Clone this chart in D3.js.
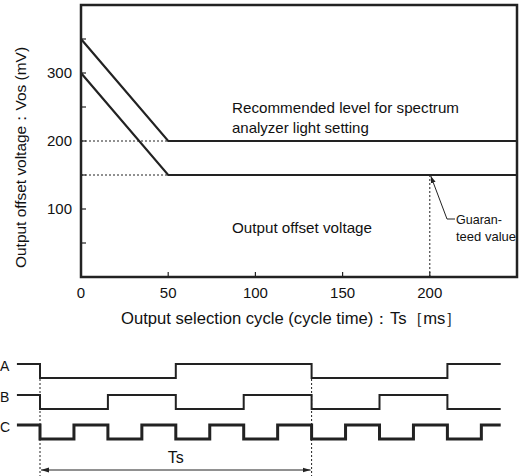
<!DOCTYPE html>
<html><head><meta charset="utf-8">
<script src="https://cdn.jsdelivr.net/npm/d3@7"></script>
<style>
body{margin:0;background:#fff;}
svg{display:block;font-family:"Liberation Sans",Arial,Helvetica,sans-serif;}
</style></head>
<body><svg id="c" width="520" height="476"></svg>
<script>
// ---- data ----
const xTicks = [0, 50, 100, 150, 200];
const yTickLabels = [100, 200, 300];
const yMinorTicks = [50, 100, 150, 200, 250, 300, 350];
const xMinorTicks = [50, 100, 150, 200];
const recommended = [[0, 350], [50, 200], [250, 200]];
const guaranteed = [[0, 300], [50, 150], [250, 150]];
const dashedH = [200, 150];
const guaranteePoint = [200, 150];
// timing diagram: segment boundaries (in C half-periods) and levels
const tBounds = [-0.68, 0, 1, 2, 3, 4, 5, 6, 7, 8, 9, 10, 11, 12, 13, 13.57];
const sigA = [1, 0, 0, 0, 0, 1, 1, 1, 1, 0, 0, 0, 0, 1, 1];
const sigB = [1, 0, 0, 1, 1, 0, 0, 1, 1, 0, 0, 1, 1, 0, 0];
const sigC = [1, 0, 1, 0, 1, 0, 1, 0, 1, 0, 1, 0, 1, 0, 1];
const tsSpan = [0, 8];

const svg = d3.select("#c");
const x = d3.scaleLinear().domain([0, 250]).range([81, 517]);
const y = d3.scaleLinear().domain([0, 400]).range([277, 5]);

// dashed guides
svg.selectAll(".dh").data(dashedH).join("line")
  .attr("x1", x(0)).attr("x2", x(50)).attr("y1", d => y(d)).attr("y2", d => y(d))
  .attr("stroke", "#222").attr("stroke-width", 1).attr("stroke-dasharray", "2,2");
svg.append("line").attr("x1", x(guaranteePoint[0])).attr("x2", x(guaranteePoint[0]))
  .attr("y1", y(guaranteePoint[1])).attr("y2", y(0))
  .attr("stroke", "#222").attr("stroke-width", 1).attr("stroke-dasharray", "2,2");

// ticks (inside)
svg.selectAll(".yt").data(yMinorTicks).join("line")
  .attr("x1", x(0)).attr("x2", x(0) + 5).attr("y1", d => y(d)).attr("y2", d => y(d))
  .attr("stroke", "#222").attr("stroke-width", 1.2);
svg.selectAll(".xt").data(xMinorTicks).join("line")
  .attr("y1", y(0)).attr("y2", y(0) - 5).attr("x1", d => x(d)).attr("x2", d => x(d))
  .attr("stroke", "#222").attr("stroke-width", 1.2);

// frame
svg.append("rect").attr("x", x(0)).attr("y", y(400)).attr("width", x(250) - x(0)).attr("height", y(0) - y(400))
  .attr("fill", "none").attr("stroke", "#222").attr("stroke-width", 2.5);

// curves
const line = d3.line().x(d => x(d[0])).y(d => y(d[1]));
[recommended, guaranteed].forEach(s => {
  svg.append("path").attr("d", line(s)).attr("fill", "none").attr("stroke", "#222").attr("stroke-width", 2.2);
});

// tick labels
svg.selectAll(".xl").data(xTicks).join("text")
  .attr("x", d => x(d)).attr("y", 298).attr("text-anchor", "middle")
  .attr("font-size", 15).attr("fill", "#111").text(d => d);
svg.selectAll(".yl").data(yTickLabels).join("text")
  .attr("x", 72).attr("y", d => y(d) + 5).attr("text-anchor", "end")
  .attr("font-size", 15).attr("fill", "#111").text(d => d);

// axis titles
svg.append("text").attr("transform", "translate(26,157.5) rotate(-90)").attr("text-anchor", "middle")
  .attr("font-size", 15).attr("fill", "#111")
  .attr("textLength", 221).attr("lengthAdjust", "spacingAndGlyphs")
  .text("Output offset voltage\uFF1AVos (mV)");
svg.append("text").attr("x", 291.5).attr("y", 324).attr("text-anchor", "middle")
  .attr("font-size", 16).attr("fill", "#111")
  .attr("textLength", 341).attr("lengthAdjust", "spacingAndGlyphs")
  .text("Output selection cycle (cycle time)\uFF1ATs\uFF3Bms\uFF3D");

// in-plot labels
svg.append("text").attr("x", 232).attr("y", 113).attr("font-size", 15).attr("fill", "#111")
  .attr("textLength", 227).attr("lengthAdjust", "spacingAndGlyphs").text("Recommended level for spectrum");
svg.append("text").attr("x", 232).attr("y", 133).attr("font-size", 15).attr("fill", "#111").text("analyzer light setting");
svg.append("text").attr("x", 232).attr("y", 233).attr("font-size", 15).attr("fill", "#111")
  .attr("textLength", 140).attr("lengthAdjust", "spacingAndGlyphs").text("Output offset voltage");

// guaranteed value annotation
const defs = svg.append("defs");
defs.append("marker").attr("id", "ah").attr("viewBox", "0 0 10 10").attr("refX", 10).attr("refY", 5)
  .attr("markerWidth", 7).attr("markerHeight", 7).attr("orient", "auto-start-reverse")
  .append("path").attr("d", "M0,1.5L10,5L0,8.5Z").attr("fill", "#222");
svg.append("path").attr("d", `M455,219 L447,219 L${x(guaranteePoint[0]) + 1},${y(guaranteePoint[1]) + 1}`)
  .attr("fill", "none").attr("stroke", "#222").attr("stroke-width", 1).attr("marker-end", "url(#ah)");
svg.append("text").attr("x", 456).attr("y", 224).attr("font-size", 13.5).attr("fill", "#111")
  .attr("textLength", 46).attr("lengthAdjust", "spacingAndGlyphs").text("Guaran-");
svg.append("text").attr("x", 456).attr("y", 241).attr("font-size", 13.5).attr("fill", "#111")
  .attr("textLength", 60).attr("lengthAdjust", "spacingAndGlyphs").text("teed value");

// timing diagram
const t = d3.scaleLinear().domain([0, 1]).range([40, 73.95]);
const rows = [
  {name: "A", sig: sigA, hi: 364, lo: 378, w: 2},
  {name: "B", sig: sigB, hi: 395, lo: 409, w: 2},
  {name: "C", sig: sigC, hi: 425, lo: 439, w: 3}
];
rows.forEach(r => {
  const ys = d3.scaleLinear().domain([0, 1]).range([r.lo, r.hi]);
  const pts = r.sig.map((v, i) => [tBounds[i], v]);
  pts.push([tBounds[tBounds.length - 1], r.sig[r.sig.length - 1]]);
  const ln = d3.line().curve(d3.curveStepAfter).x(d => t(d[0])).y(d => ys(d[1]));
  svg.append("path").attr("d", ln(pts)).attr("fill", "none").attr("stroke", "#222")
    .attr("stroke-width", r.w).attr("stroke-linejoin", "miter");
  svg.append("text").attr("x", 0).attr("y", r.hi + 7).attr("text-anchor", "start")
    .attr("font-size", 14).attr("fill", "#111").text(r.name);
});
tsSpan.forEach(s => {
  svg.append("line").attr("x1", t(s)).attr("x2", t(s)).attr("y1", 379).attr("y2", 476)
    .attr("stroke", "#222").attr("stroke-width", 1).attr("stroke-dasharray", "2,2");
});
defs.append("marker").attr("id", "ah2").attr("viewBox", "0 0 10 10").attr("refX", 10).attr("refY", 5)
  .attr("markerWidth", 8).attr("markerHeight", 8).attr("orient", "auto-start-reverse")
  .append("path").attr("d", "M0,2L10,5L0,8Z").attr("fill", "#222");
svg.append("line").attr("x1", t(tsSpan[0]) + 1).attr("x2", t(tsSpan[1]) - 1).attr("y1", 470).attr("y2", 470)
  .attr("stroke", "#222").attr("stroke-width", 1)
  .attr("marker-start", "url(#ah2)").attr("marker-end", "url(#ah2)");
svg.append("text").attr("x", (t(tsSpan[0]) + t(tsSpan[1])) / 2).attr("y", 463).attr("text-anchor", "middle")
  .attr("font-size", 16).attr("fill", "#111").text("Ts");
</script></body></html>
